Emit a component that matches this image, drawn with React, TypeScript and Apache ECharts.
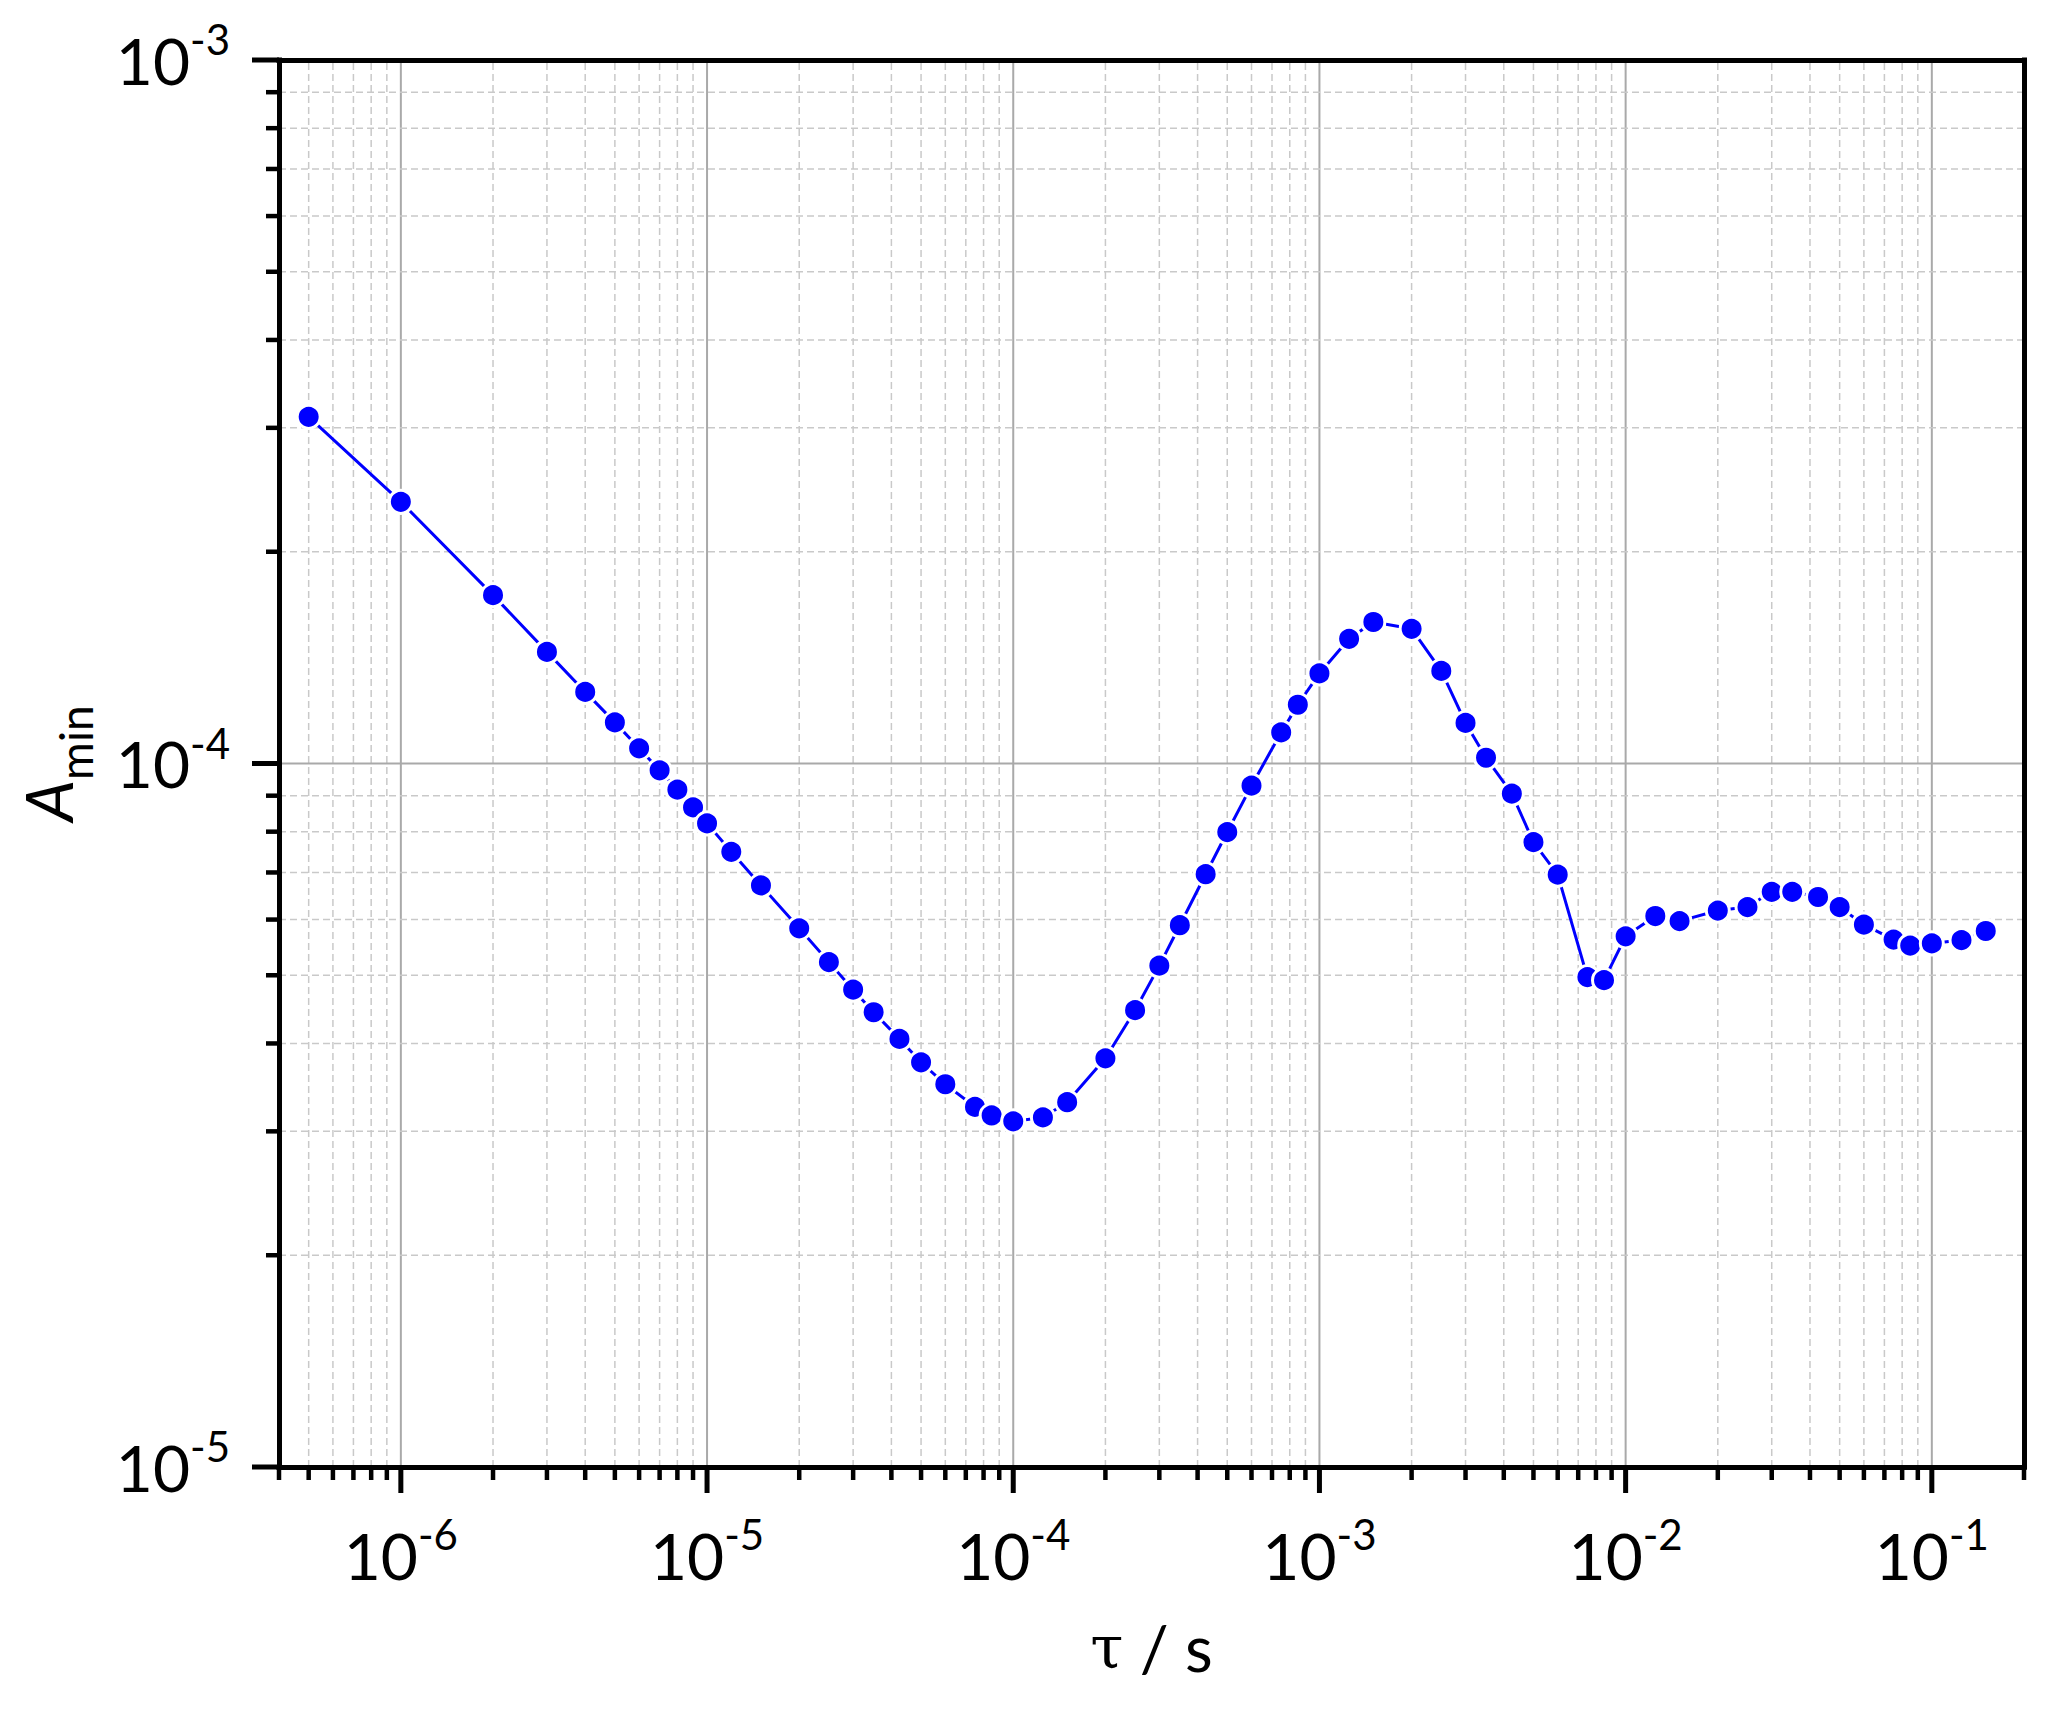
import React, { useEffect, useRef } from 'react';
import * as echarts from 'echarts';

// ---- data ----
const tau = [
  5e-7, 1e-6, 2e-6, 3e-6, 4e-6, 5e-6, 6e-6, 7e-6, 8e-6, 9e-6,
  1e-5, 1.2e-5, 1.5e-5, 2e-5, 2.5e-5, 3e-5, 3.5e-5, 4.25e-5, 5e-5, 6e-5, 7.5e-5, 8.5e-5,
  1e-4, 1.25e-4, 1.5e-4, 2e-4, 2.5e-4, 3e-4, 3.5e-4, 4.25e-4, 5e-4, 6e-4, 7.5e-4, 8.5e-4,
  1e-3, 1.25e-3, 1.5e-3, 2e-3, 2.5e-3, 3e-3, 3.5e-3, 4.25e-3, 5e-3, 6e-3, 7.5e-3, 8.5e-3,
  1e-2, 1.25e-2, 1.5e-2, 2e-2, 2.5e-2, 3e-2, 3.5e-2, 4.25e-2, 5e-2, 6e-2, 7.5e-2, 8.5e-2,
  0.1, 0.125, 0.15,
];
const aMin = [
  3.11e-4, 2.355e-4, 1.735e-4, 1.441e-4, 1.264e-4, 1.144e-4, 1.051e-4, 9.78e-5, 9.18e-5, 8.66e-5,
  8.22e-5, 7.49e-5, 6.71e-5, 5.83e-5, 5.22e-5, 4.77e-5, 4.43e-5, 4.06e-5, 3.76e-5, 3.5e-5, 3.25e-5, 3.16e-5,
  3.1e-5, 3.14e-5, 3.3e-5, 3.81e-5, 4.46e-5, 5.16e-5, 5.89e-5, 6.96e-5, 7.99e-5, 9.3e-5, 1.107e-4, 1.212e-4,
  1.343e-4, 1.504e-4, 1.589e-4, 1.554e-4, 1.354e-4, 1.142e-4, 1.019e-4, 9.06e-5, 7.73e-5, 6.95e-5, 4.97e-5, 4.92e-5,
  5.68e-5, 6.07e-5, 5.97e-5, 6.18e-5, 6.25e-5, 6.57e-5, 6.57e-5, 6.46e-5, 6.25e-5, 5.9e-5, 5.62e-5, 5.51e-5,
  5.55e-5, 5.61e-5, 5.78e-5,
];

// ---- axes ----
const X_MIN = 4e-7;
const X_MAX = 0.2;
const Y_MIN = 1e-5;
const Y_MAX = 1e-3;
const xMajorTicks = [1e-6, 1e-5, 1e-4, 1e-3, 1e-2, 1e-1];
const yMajorTicks = [1e-5, 1e-4, 1e-3];
const minorMultipliers = [2, 3, 4, 5, 6, 7, 8, 9];
const xDecades = [1e-7, 1e-6, 1e-5, 1e-4, 1e-3, 1e-2, 1e-1];
const yDecades = [1e-5, 1e-4];

const X_TITLE_TAU = 'τ';
const X_TITLE_REST = ' / s';
const Y_TITLE_MAIN = 'A';
const Y_TITLE_SUB = 'min';

const MAJOR_GRID = '#a9a9a9';
const MINOR_GRID = '#c9c9c9';
const BLUE = '#0000ff';
const FONT = 'Lato';

function minorValues(decades: number[], lo: number, hi: number) {
  const out: number[] = [];
  decades.forEach((d) =>
    minorMultipliers.forEach((m) => {
      const v = d * m;
      if (v >= lo * (1 - 1e-9) && v <= hi * (1 + 1e-9)) out.push(v);
    })
  );
  return out;
}

const sciLabel = (v: number) => `{b|10}{s|${Math.round(Math.log10(v))}}`;

const RICH: any = {
  b: { fontFamily: FONT, fontSize: 64, fill: '#000', verticalAlign: 'top', height: 64, padding: [10, 0, 0, 0] },
  s: { fontFamily: FONT, fontSize: 42, fill: '#000', verticalAlign: 'top', height: 42 },
};

export default function App() {
  const ref = useRef<HTMLDivElement>(null);

  useEffect(() => {
    if (!ref.current) return;
    const chart = echarts.init(ref.current, null, { renderer: 'svg' });

    const xTickData = [
      ...xMajorTicks.map((v) => [v, Y_MIN, 1]),
      ...minorValues(xDecades, X_MIN, X_MAX).map((v) => [v, Y_MIN, 0]),
    ];
    const yTickData = [
      ...yMajorTicks.map((v) => [X_MIN, v, 1]),
      ...minorValues(yDecades, Y_MIN, Y_MAX).map((v) => [X_MIN, v, 0]),
    ];

    const renderXTick = (_p: any, api: any) => {
      const v = api.value(0);
      const major = api.value(2) === 1;
      const b = api.coord([v, Y_MIN]);
      const t = api.coord([v, Y_MAX]);
      const children: any[] = [
        {
          type: 'line',
          shape: { x1: b[0], y1: b[1], x2: t[0], y2: t[1] },
          style: major
            ? { stroke: MAJOR_GRID, lineWidth: 2 }
            : { stroke: MINOR_GRID, lineWidth: 1.5, lineDash: [7, 4] },
        },
        {
          type: 'line',
          shape: { x1: b[0], y1: b[1], x2: b[0], y2: b[1] + (major ? 26 : 13) },
          style: { stroke: '#000', lineWidth: major ? 5 : 4.5 },
        },
      ];
      if (major) {
        children.push({
          type: 'text',
          x: b[0],
          y: b[1] + 46,
          style: { text: sciLabel(v), rich: RICH, align: 'center', verticalAlign: 'top', fill: '#000', fontFamily: FONT, fontSize: 64 },
        });
      }
      return { type: 'group', children };
    };

    const renderYTick = (_p: any, api: any) => {
      const v = api.value(1);
      const major = api.value(2) === 1;
      const l = api.coord([X_MIN, v]);
      const r = api.coord([X_MAX, v]);
      const children: any[] = [
        {
          type: 'line',
          shape: { x1: l[0], y1: l[1], x2: r[0], y2: r[1] },
          style: major
            ? { stroke: MAJOR_GRID, lineWidth: 2 }
            : { stroke: MINOR_GRID, lineWidth: 1.5, lineDash: [7, 4] },
        },
        {
          type: 'line',
          shape: { x1: l[0], y1: l[1], x2: l[0] - (major ? 27 : 13), y2: l[1] },
          style: { stroke: '#000', lineWidth: major ? 5 : 4.5 },
        },
      ];
      if (major) {
        children.push({
          type: 'text',
          x: l[0] - 49,
          y: l[1] - 5,
          style: { text: sciLabel(v), rich: RICH, align: 'right', verticalAlign: 'middle', fill: '#000', fontFamily: FONT, fontSize: 64 },
        });
      }
      return { type: 'group', children };
    };

    const frameLine = { show: true, onZero: false, lineStyle: { color: '#000', width: 5, cap: 'square' } };
    const hidden = {
      axisTick: { show: false },
      axisLabel: { show: false },
      splitLine: { show: false },
      minorTick: { show: false },
      minorSplitLine: { show: false },
    };

    chart.setOption({
      animation: false,
      backgroundColor: '#fff',
      grid: { left: 279, right: 28, top: 60, bottom: 249 },
      xAxis: [
        {
          type: 'log',
          logBase: 10,
          min: X_MIN,
          max: X_MAX,
          position: 'bottom',
          axisLine: frameLine,
          ...hidden,
          z: 5,
          name: `{t|${X_TITLE_TAU}}{r|${X_TITLE_REST}}`,
          nameLocation: 'middle',
          nameGap: 148,
          nameTextStyle: {
            rich: {
              t: { fontFamily: 'DejaVu Serif', fontSize: 60, color: '#000' },
              r: { fontFamily: FONT, fontSize: 64, color: '#000' },
            },
          },
        },
        {
          type: 'log',
          logBase: 10,
          min: X_MIN,
          max: X_MAX,
          position: 'top',
          axisLine: frameLine,
          ...hidden,
          z: 5,
        },
      ],
      yAxis: [
        {
          type: 'log',
          logBase: 10,
          min: Y_MIN,
          max: Y_MAX,
          position: 'left',
          axisLine: frameLine,
          ...hidden,
          z: 5,
          name: `{a|${Y_TITLE_MAIN}}{m|${Y_TITLE_SUB}}`,
          nameLocation: 'middle',
          nameRotate: 90,
          nameGap: 181,
          nameTextStyle: {
            rich: {
              a: { fontFamily: FONT, fontStyle: 'italic', fontSize: 66, color: '#000', verticalAlign: 'top', height: 66 },
              m: { fontFamily: FONT, fontSize: 46, color: '#000', verticalAlign: 'top', height: 46, padding: [38, 0, 0, 0] },
            },
          },
        },
        {
          type: 'log',
          logBase: 10,
          min: Y_MIN,
          max: Y_MAX,
          position: 'right',
          axisLine: frameLine,
          ...hidden,
          z: 5,
        },
      ],
      series: [
        {
          type: 'custom',
          name: 'xTicks',
          coordinateSystem: 'cartesian2d',
          xAxisIndex: 0,
          yAxisIndex: 0,
          silent: true,
          clip: false,
          z: 1,
          encode: { x: 0, y: 1 },
          data: xTickData,
          renderItem: renderXTick,
        },
        {
          type: 'custom',
          name: 'yTicks',
          coordinateSystem: 'cartesian2d',
          xAxisIndex: 0,
          yAxisIndex: 0,
          silent: true,
          clip: false,
          z: 1,
          encode: { x: 0, y: 1 },
          data: yTickData,
          renderItem: renderYTick,
        },
        {
          type: 'line',
          name: 'Amin',
          xAxisIndex: 0,
          yAxisIndex: 0,
          z: 3,
          data: tau.map((t, i) => [t, aMin[i]]),
          showSymbol: true,
          symbol: 'circle',
          symbolSize: 23,
          lineStyle: { color: BLUE, width: 3 },
          itemStyle: { color: BLUE, borderColor: '#fff', borderWidth: 3 },
        },
      ],
    });

    return () => chart.dispose();
  }, []);

  return (
    <div
      ref={ref}
      style={{ position: 'fixed', left: 0, top: 0, width: 2052, height: 1716, background: '#fff' }}
    />
  );
}
